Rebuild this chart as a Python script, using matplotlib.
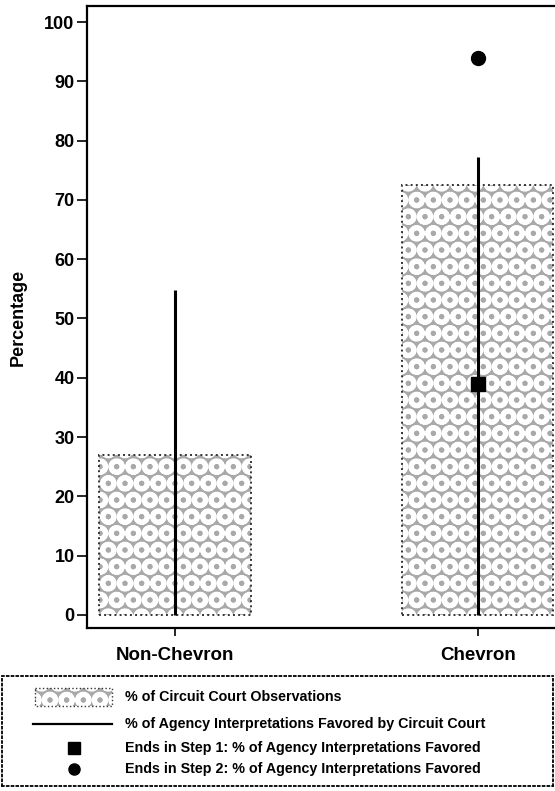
import numpy as np
import matplotlib.pyplot as plt
from matplotlib.patches import Rectangle

plt.rcParams['font.family'] = ['Liberation Sans', 'DejaVu Sans']
plt.rcParams['hatch.linewidth'] = 3.5

# data
categories = ['Non-Chevron', 'Chevron']
observations = [27.0, 72.5]        # % of circuit court observations (bars)
favored = [54.8, 77.2]             # % of agency interpretations favored (lines)
step1 = [None, 39.0]               # ends in step 1 (square)
step2 = [None, 94.0]               # ends in step 2 (circle)
yticks = [0, 10, 20, 30, 40, 50, 60, 70, 80, 90, 100]

legend_labels = ['% of Circuit Court Observations',
                 '% of Agency Interpretations Favored by Circuit Court',
                 'Ends in Step 1: % of Agency Interpretations Favored',
                 'Ends in Step 2: % of Agency Interpretations Favored']

FACE = '#a9a9a9'
W, H = 555, 791
fig = plt.figure(figsize=(W / 100, H / 100), dpi=100)
ax = fig.add_axes([87 / W, 1 - 628 / H, (W - 87) / W, (628 - 6) / H])

x = np.arange(len(categories))
# textured fill (white rings on gray), then dotted outline on top
ax.bar(x, observations, width=0.5, color=FACE, hatch='O',
       edgecolor='white', linewidth=0, zorder=1)
ax.bar(x, observations, width=0.5, fill=False,
       edgecolor='#333333', linewidth=1.4, linestyle=':', zorder=1.5)
ax.vlines(x, 0, favored, color='black', linewidth=2.2, zorder=2)
for i in range(len(categories)):
    if step1[i] is not None:
        ax.plot(x[i], step1[i], 's', color='black', markersize=10, zorder=3)
    if step2[i] is not None:
        ax.plot(x[i], step2[i], 'o', color='black', markersize=10, zorder=3)

ax.set_xlim(-0.29, 1.255)
ax.set_ylim(-2.2, 102.7)
ax.set_yticks(yticks)
ax.set_xticks(x)
ax.set_xticklabels(categories, fontsize=13.5, fontweight='bold')
for lab in ax.get_yticklabels():
    lab.set_fontweight('bold')
ax.tick_params(axis='y', labelsize=13, length=7, width=1.2, pad=2)
ax.tick_params(axis='x', length=6, width=1.2, pad=8)
ax.set_ylabel('Percentage', fontsize=13, fontweight='bold')
ax.yaxis.set_label_coords(-0.128, 0.5)
ax.spines['right'].set_visible(False)
for s in ['left', 'bottom', 'top']:
    ax.spines[s].set_linewidth(1.6)

# legend box drawn in its own axes
lg = fig.add_axes([2 / W, 1 - 786 / H, 551 / W, (786 - 676) / H])
lg.set_xlim(0, 551)
lg.set_ylim(110, 0)
lg.set_xticks([])
lg.set_yticks([])
for s in lg.spines.values():
    s.set_linestyle(':')
    s.set_linewidth(1.3)
rows = [21, 48, 72, 93]
lg.add_patch(Rectangle((33, rows[0] - 9), 77, 18, facecolor=FACE,
                       hatch='O', edgecolor='white', linewidth=0))
lg.add_patch(Rectangle((33, rows[0] - 9), 77, 18, fill=False,
                       edgecolor='#333333', linestyle=':', linewidth=1))
lg.plot([31, 110], [rows[1], rows[1]], color='black', linewidth=1.6)
lg.plot(72, rows[2], 's', color='black', markersize=8)
lg.plot(72, rows[3], 'o', color='black', markersize=8)
for r, lab in zip(rows, legend_labels):
    lg.text(123, r, lab, fontsize=10.3, fontweight='bold', va='center', ha='left')

fig.savefig('out.png', dpi=100)
